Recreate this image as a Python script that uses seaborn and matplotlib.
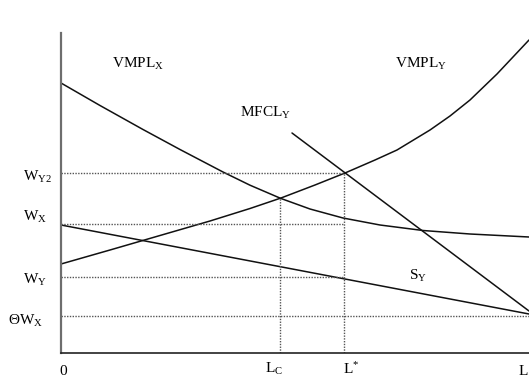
import numpy as np
import pandas as pd
import matplotlib.pyplot as plt
import seaborn as sns

# labour on x (0 .. L), wage on y, in picture units
L_TOTAL = 468
L_C = 219
L_STAR = 283

W_Y2 = 180
W_X = 129
W_Y = 76
THETA_W_X = 37

# VMPL_X : falling, convex
vmplx_l = [0, 39, 82, 119, 162, 189, 220, 249, 282, 319, 362, 409, 468]
vmplx_w = [270, 247.5, 223.5, 203.5, 181, 167.8, 154.5, 144, 135, 128, 122.5, 119, 116]

# VMPL_Y : rising, convex
vmply_l = [0, 49, 99, 149, 189, 220, 254, 284, 314, 336, 369, 389, 409, 436, 468]
vmply_w = [89, 103, 117.5, 132, 144.5, 155, 168, 180, 193, 203, 223, 237, 253, 279, 313]

# MFCL_Y and S_Y : straight lines
mfcl_l = [231, 468]
mfcl_w = [220, 42]
sy_l = [0, 468]
sy_w = [128, 39]

# dotted guide lines
h_levels = [W_Y2, W_X, W_Y, THETA_W_X]
h_ends = [L_STAR, L_STAR, L_STAR, L_TOTAL]
v_levels = [L_C, L_STAR]
v_tops = [155, W_Y2]

sns.set_theme(style="white")
plt.rcParams['font.family'] = ['Liberation Serif', 'DejaVu Serif']
plt.rcParams['mathtext.fontset'] = 'custom'
plt.rcParams['mathtext.rm'] = 'Liberation Serif'
plt.rcParams['mathtext.it'] = 'Liberation Serif:italic'

fig = plt.figure(figsize=(5.29, 3.78), dpi=100)
ax = fig.add_axes([61 / 529, 25 / 378, 468 / 529, 320 / 378])

curves = [(vmplx_l, vmplx_w), (vmply_l, vmply_w), (mfcl_l, mfcl_w), (sy_l, sy_w)]
for xs, ys in curves:
    df = pd.DataFrame({'L': xs, 'W': ys})
    sns.lineplot(data=df, x='L', y='W', ax=ax, color='#111111', lw=1.1,
                 sort=False, clip_on=False)

dot = dict(color='#555555', lw=1.0, linestyle=(0, (1, 1)))
for lev, end in zip(h_levels, h_ends):
    ax.plot([0, end], [lev, lev], **dot)
for lev, top in zip(v_levels, v_tops):
    ax.plot([lev, lev], [0, top], **dot)

ax.set_xlim(0, L_TOTAL)
ax.set_ylim(0, 320)
ax.set_xticks([])
ax.set_yticks([])
ax.set_xlabel('')
ax.set_ylabel('')
for s in ['top', 'right']:
    ax.spines[s].set_visible(False)
ax.spines['left'].set_color('#6e6e6e')
ax.spines['left'].set_linewidth(1.6)
ax.spines['bottom'].set_color('#222222')
ax.spines['bottom'].set_linewidth(1.2)

fs = 11
kw = dict(fontsize=fs, va='baseline', ha='left', clip_on=False, color='black')
ax.text(51, 285, r'VMPL$_{\mathrm{X}}$', **kw)
ax.text(334, 285, r'VMPL$_{\mathrm{Y}}$', **kw)
ax.text(179, 236, r'MFCL$_{\mathrm{Y}}$', **kw)
ax.text(348, 73, r'S$_{\mathrm{Y}}$', **kw)

ax.text(-38, 172, r'W$_{\mathrm{Y2}}$', **kw)
ax.text(-38, 132, r'W$_{\mathrm{X}}$', **kw)
ax.text(-38, 69, r'W$_{\mathrm{Y}}$', **kw)
ax.text(-53, 28, r'ΘW$_{\mathrm{X}}$', **kw)

# x-axis labels (kept just inside the canvas)
ax.text(-2, -22, '0', **kw)
ax.text(204, -20, r'L$_{\mathrm{C}}$', **kw)
ax.text(282, -21, r'L$^{*}$', **kw)
ax.text(458, -22, 'L', **kw)

fig.savefig('out.png', dpi=100)
